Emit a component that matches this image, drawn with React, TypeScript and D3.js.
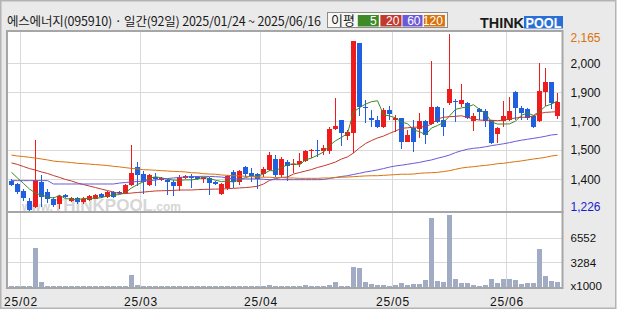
import React from "react";
import * as d3 from "d3";

const dates = [
  "01/24","01/31",
  "02/03","02/04","02/05","02/06","02/07","02/10","02/11","02/12","02/13","02/14","02/17","02/18","02/19","02/20","02/21","02/24","02/25","02/26","02/27","02/28",
  "03/04","03/05","03/06","03/07","03/10","03/11","03/12","03/13","03/14","03/17","03/18","03/19","03/20","03/21","03/24","03/25","03/26","03/27","03/28","03/31",
  "04/01","04/02","04/03","04/04","04/07","04/08","04/09","04/10","04/11","04/14","04/15","04/16","04/17","04/18","04/21","04/22","04/23","04/24","04/25","04/28","04/29","04/30",
  "05/02","05/07","05/08","05/09","05/12","05/13","05/14","05/15","05/16","05/19","05/20","05/21","05/22","05/23","05/26","05/27","05/28","05/29","05/30",
  "06/02","06/04","06/05","06/09","06/10","06/11","06/12","06/13","06/16",
];

const open = [1385,1365,1330,1275,1245,1375,1325,1285,1260,1310,1275,1295,1270,1280,1285,1315,1300,1325,1325,1320,1360,1455,1420,1360,1405,1390,1390,1380,1355,1400,1410,1405,1395,1400,1380,1315,1345,1430,1375,1455,1425,1420,1420,1440,1500,1415,1485,1470,1475,1490,1540,1550,1540,1540,1660,1710,1625,1640,2115,1775,1720,1705,1670,1760,1705,1720,1590,1665,1660,1700,1685,1775,1710,1800,1810,1795,1800,1700,1765,1755,1705,1635,1700,1705,1855,1770,1765,1730,1700,1855,1910,1730];
const high = [1395,1370,1340,1290,1600,1415,1340,1300,1310,1315,1300,1300,1300,1310,1315,1320,1330,1330,1330,1365,1575,1485,1435,1420,1425,1405,1395,1390,1415,1415,1420,1410,1405,1405,1385,1370,1415,1440,1440,1465,1450,1425,1460,1535,1520,1510,1495,1500,1530,1550,1555,1600,1575,1670,1825,1710,1655,2130,2115,1815,1760,1730,1770,1780,1735,1720,1655,1710,1745,1705,2020,1780,1770,2165,1820,1900,1805,1745,1770,1765,1710,1670,1810,1830,1860,1780,1770,1735,2010,1985,1910,1850];
const low = [1355,1315,1275,1226,1240,1245,1265,1245,1235,1290,1270,1260,1260,1275,1285,1290,1295,1295,1315,1315,1355,1355,1315,1355,1355,1385,1310,1305,1330,1395,1345,1390,1370,1310,1360,1310,1335,1345,1360,1405,1380,1340,1405,1435,1405,1405,1385,1425,1460,1485,1505,1510,1520,1525,1655,1570,1600,1530,1730,1690,1670,1665,1665,1705,1645,1555,1590,1535,1610,1580,1680,1690,1625,1785,1695,1775,1715,1650,1705,1670,1580,1585,1670,1700,1710,1705,1705,1665,1695,1780,1765,1715];
const close = [1360,1325,1290,1230,1390,1300,1285,1255,1305,1300,1290,1270,1285,1305,1310,1300,1325,1300,1320,1360,1425,1415,1375,1415,1395,1400,1375,1355,1405,1410,1400,1395,1405,1370,1365,1365,1410,1375,1435,1420,1410,1395,1445,1520,1415,1500,1465,1475,1490,1545,1550,1540,1560,1660,1675,1640,1645,2130,1775,1770,1705,1670,1760,1740,1720,1590,1630,1590,1700,1630,1775,1695,1670,1875,1805,1815,1720,1730,1750,1700,1585,1665,1730,1755,1770,1745,1720,1670,1860,1910,1800,1805];
const volume = [140,140,140,140,5150,625,140,140,140,140,140,140,140,140,140,140,140,140,140,140,1555,225,140,140,140,140,140,140,140,140,140,140,140,140,140,140,140,140,140,140,140,140,140,225,130,130,130,130,130,220,130,130,130,220,620,130,130,2615,2480,620,355,220,220,135,220,490,220,355,355,885,9265,755,620,9665,1020,490,490,220,90,220,1020,490,1020,1020,885,355,490,490,5010,1420,755,620];

const ma5 = [1429,1399,1370,1340,1319,1307,1299,1292,1307,1289,1287,1284,1290,1290,1292,1294,1305,1308,1311,1321,1346,1364,1379,1398,1405,1400,1392,1388,1386,1389,1389,1393,1403,1396,1387,1380,1383,1377,1390,1401,1410,1407,1421,1438,1437,1455,1469,1475,1469,1495,1505,1520,1537,1571,1597,1615,1636,1750,1773,1792,1805,1810,1736,1729,1719,1696,1688,1654,1646,1628,1665,1678,1694,1729,1764,1772,1777,1789,1764,1743,1697,1686,1686,1687,1701,1733,1744,1732,1753,1781,1792,1809];
const ma20 = [1479,1471,1460,1449,1441,1431,1423,1412,1402,1391,1383,1372,1364,1356,1348,1340,1332,1324,1316,1316,1319,1322,1324,1327,1330,1331,1332,1333,1335,1335,1335,1337,1338,1339,1340,1340,1342,1344,1346,1348,1351,1355,1367,1386,1396,1402,1404,1420,1428,1436,1444,1455,1463,1473,1484,1500,1511,1532,1559,1582,1598,1612,1622,1636,1649,1663,1666,1669,1670,1672,1686,1713,1722,1725,1727,1730,1721,1714,1707,1706,1706,1704,1707,1714,1718,1722,1722,1729,1742,1748,1750,1752];
const ma60 = [1385,1385,1385,1385,1385,1385,1385,1367,1367,1367,1367,1367,1367,1367,1367,1367,1367,1367,1372,1375,1378,1380,1383,1385,1388,1394,1396,1399,1402,1404,1406,1407,1408,1407,1406,1404,1399,1394,1394,1394,1394,1394,1392,1390,1390,1390,1390,1390,1390,1390,1390,1390,1391,1396,1402,1407,1411,1418,1424,1431,1436,1442,1449,1457,1463,1467,1472,1477,1482,1489,1495,1504,1512,1521,1534,1544,1552,1557,1560,1565,1571,1576,1581,1587,1594,1600,1605,1610,1615,1621,1628,1631];
const ma120 = [1521,1516,1513,1509,1505,1500,1495,1489,1486,1484,1481,1477,1475,1473,1470,1468,1465,1461,1458,1454,1450,1447,1443,1442,1440,1438,1436,1434,1433,1431,1427,1426,1422,1420,1419,1415,1413,1411,1410,1408,1406,1404,1403,1403,1401,1401,1399,1399,1397,1397,1397,1397,1399,1399,1401,1403,1404,1406,1408,1410,1411,1411,1413,1415,1417,1419,1419,1420,1424,1426,1427,1429,1433,1438,1445,1452,1456,1459,1463,1466,1470,1475,1477,1482,1486,1490,1495,1500,1504,1509,1516,1520];

const priceMin = 1226;
const priceMax = 2165;
const priceGridValues = [2009, 1855, 1701, 1548, 1392];
const priceGridLabels = ["2,000", "1,900", "1,700", "1,500", "1,400"];
const volumeGridValues = [6552, 3284];
const volumeGridLabels = ["6552", "3284"];
const volumeUnitLabel = "x1000";
const maPeriods = ["5", "20", "60", "120"];
const maColors = ["#3d8a26", "#c23a2e", "#6a5ad8", "#d9730d"];
const titleText = "에스에너지(095910) · 일간(92일) 2025/01/24 ~ 2025/06/16";

const UP = "#ee1c1c";
const DOWN = "#1f5fe0";
const FONT = "'Liberation Sans', Arial, sans-serif";
const KFONT = "'Noto Sans CJK KR', 'Noto Sans', sans-serif";

export default function App() {
  const x = d3.scaleBand<string>().domain(dates).range([8, 560]).padding(0);
  const y = d3.scaleLinear().domain([priceMin, priceMax]).range([210.5, 34]);
  const v = d3.scaleLinear().domain([0, 10000]).range([287, 212]);
  const cx = (i: number) => (x(dates[i]) as number) + 3.5;

  const monthStarts = dates
    .map((d, i) => ({ d, i }))
    .filter(({ d, i }) => i > 0 && d.slice(0, 2) !== dates[i - 1].slice(0, 2));

  const lineGen = d3
    .line<number>()
    .x((_, i) => cx(i))
    .y((val) => y(val));

  const maSeries = [ma5, ma20, ma60, ma120];

  const legendX = [357.8, 380.4, 402.5, 423.9];
  const legendW = [21, 21, 20, 21];

  return (
    <svg
      width={620}
      height={310}
      style={{ position: "absolute", left: 0, top: 0, display: "block" }}
    >
      <rect x={0} y={0} width={620} height={310} fill="#ffffff" />
      <rect x={0.75} y={0.75} width={615} height={307.5} fill="#eaeaea" stroke="#b4b4b4" strokeWidth={1.5} />

      {/* title */}
      <text x={7} y={26} fontFamily={KFONT} fontSize={12.5} fill="#1a1a1a" textLength={314} lengthAdjust="spacing">
        {titleText}
      </text>

      {/* legend */}
      <rect x={327.5} y={12.5} width={120} height={15} fill="#f7f7f7" stroke="#8c8c8c" strokeWidth={1} />
      <text x={331} y={25} fontFamily={KFONT} fontSize={13} fill="#1a1a1a">이평</text>
      {maPeriods.map((p, k) => (
        <g key={p}>
          <rect x={legendX[k]} y={15} width={legendW[k]} height={11.5} fill={maColors[k]} />
          <text x={legendX[k] + legendW[k] - 2} y={24.6} fontFamily={FONT} fontSize={12} fill="#ffffff" textAnchor="end">
            {p}
          </text>
        </g>
      ))}

      {/* logo */}
      <text x={480} y={27.5} fontFamily={FONT} fontWeight={900} fontSize={14.5} fill="#1b1b1b" textLength={44} lengthAdjust="spacingAndGlyphs">
        THINK
      </text>
      <rect x={524} y={16} width={39} height={12.5} fill="#2a6fd6" />
      <text x={525.5} y={27.5} fontFamily={FONT} fontWeight={900} fontSize={14.5} fill="#ffffff" textLength={36} lengthAdjust="spacingAndGlyphs">
        POOL
      </text>

      {/* plot backgrounds */}
      <rect x={7} y={31} width={555.5} height={257} fill="#ffffff" />

      {/* grid */}
      {priceGridValues.map((g) => (
        <line key={g} x1={8} x2={562} y1={Math.round(y(g)) + 0.5} y2={Math.round(y(g)) + 0.5} stroke="#d9d9d9" strokeWidth={1} />
      ))}
      {volumeGridValues.map((g) => (
        <line key={g} x1={8} x2={562} y1={Math.round(v(g)) + 0.5} y2={Math.round(v(g)) + 0.5} stroke="#d9d9d9" strokeWidth={1} />
      ))}
      {monthStarts.map(({ d }) => (
        <line key={d} x1={(x(d) as number) + 0.5} x2={(x(d) as number) + 0.5} y1={32} y2={287} stroke="#d9d9d9" strokeWidth={1} />
      ))}

      {/* watermark */}
      <text x={22} y={211} fontFamily={FONT} fill="#d6d6d6" fontWeight={700}>
        <tspan fontSize={12}>www.</tspan>
        <tspan fontSize={17} fontWeight={900}>THINKPOOL</tspan>
        <tspan fontSize={12}>.com</tspan>
      </text>

      {/* volume */}
      {volume.map((val, i) => (
        <rect
          key={i}
          x={(x(dates[i]) as number) + 1}
          y={v(val)}
          width={5}
          height={287 - v(val)}
          fill="#a2abc4"
          shapeRendering="crispEdges"
        />
      ))}

      {/* candles */}
      {dates.map((d, i) => {
        const col = close[i] >= open[i] ? UP : DOWN;
        const top = y(Math.max(open[i], close[i]));
        const bot = y(Math.min(open[i], close[i]));
        return (
          <g key={d} shapeRendering="crispEdges">
            <line x1={cx(i)} x2={cx(i)} y1={y(high[i])} y2={y(low[i])} stroke={col} strokeWidth={1} />
            <rect x={(x(d) as number) + 1} y={top} width={5} height={Math.max(1, bot - top)} fill={col} />
          </g>
        );
      })}

      {/* moving averages */}
      {maSeries.map((s, k) => (
        <path key={k} d={lineGen(s) || ""} fill="none" stroke={maColors[k]} strokeWidth={1} />
      ))}

      {/* pane borders */}
      <rect x={7} y={31} width={555.5} height={181} fill="none" stroke="#a6a6a6" strokeWidth={2} />
      <rect x={7} y={212} width={555.5} height={76} fill="none" stroke="#a6a6a6" strokeWidth={2} />

      {/* right price labels */}
      <text x={570.5} y={41.5} fontFamily={FONT} fontSize={12} fill="#d9730d">
        {d3.format(",")(priceMax)}
      </text>
      {priceGridValues.map((g, k) => (
        <text key={g} x={570.5} y={y(g) + 4.3} fontFamily={FONT} fontSize={12} fill="#111">
          {priceGridLabels[k]}
        </text>
      ))}
      <text x={570.5} y={210.5} fontFamily={FONT} fontSize={12} fill="#1a1ad0">
        {d3.format(",")(priceMin)}
      </text>

      {/* volume labels */}
      {volumeGridValues.map((g, k) => (
        <text key={g} x={570.5} y={v(g) + 4.3} fontFamily={FONT} fontSize={11.5} fill="#111">
          {volumeGridLabels[k]}
        </text>
      ))}
      <text x={570.5} y={290} fontFamily={FONT} fontSize={11.5} fill="#111">
        {volumeUnitLabel}
      </text>

      {/* x labels */}
      {monthStarts.map(({ d }) => (
        <text
          key={d}
          x={(x(d) as number) + 1}
          y={305.5}
          fontFamily={FONT}
          fontSize={12}
          fill="#111"
          textAnchor="middle"
          letterSpacing={0.8}
        >
          {"25/" + d.slice(0, 2)}
        </text>
      ))}
    </svg>
  );
}
